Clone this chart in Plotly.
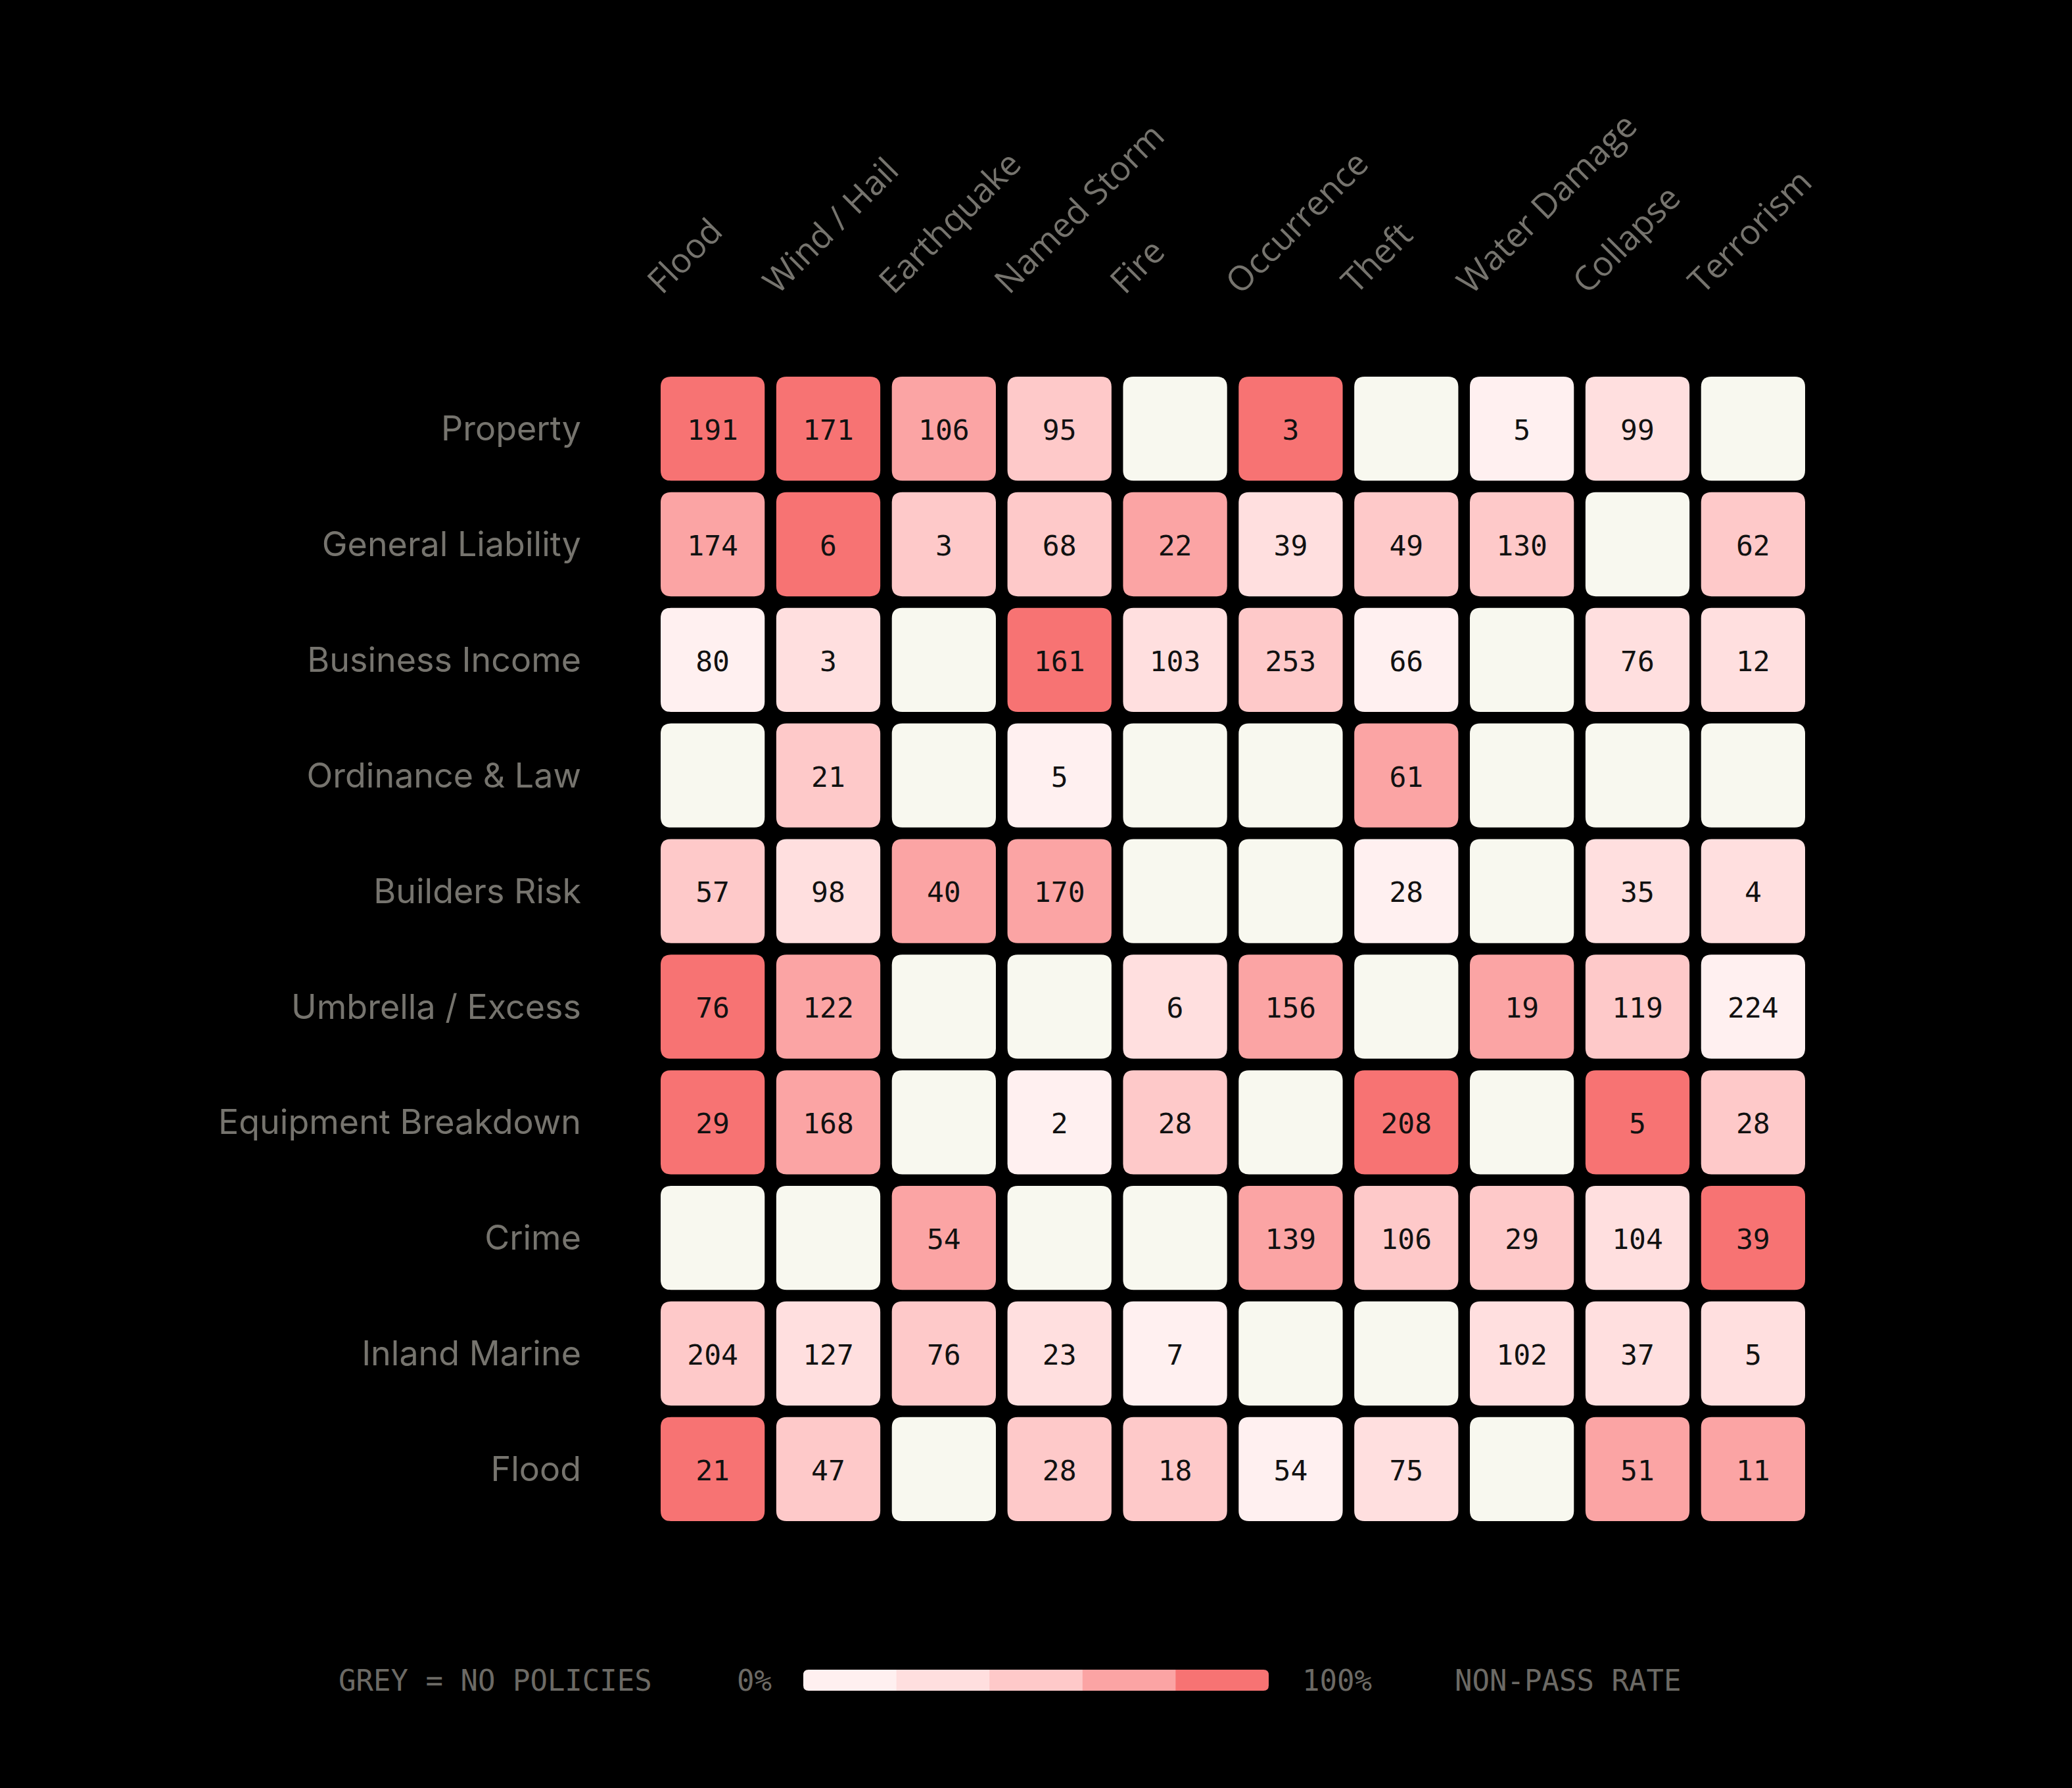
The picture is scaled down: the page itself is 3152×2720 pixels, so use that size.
import plotly.graph_objects as go

lines = ["Property", "General Liability", "Business Income", "Ordinance & Law",
         "Builders Risk", "Umbrella / Excess", "Equipment Breakdown", "Crime",
         "Inland Marine", "Flood"]
perils = ["Flood", "Wind / Hail", "Earthquake", "Named Storm", "Fire",
          "Occurrence", "Theft", "Water Damage", "Collapse", "Terrorism"]

# policies per cell, None = no policies (grey cell)
counts = [
    [191, 171, 106, 95, None, 3, None, 5, 99, None],
    [174, 6, 3, 68, 22, 39, 49, 130, None, 62],
    [80, 3, None, 161, 103, 253, 66, None, 76, 12],
    [None, 21, None, 5, None, None, 61, None, None, None],
    [57, 98, 40, 170, None, None, 28, None, 35, 4],
    [76, 122, None, None, 6, 156, None, 19, 119, 224],
    [29, 168, None, 2, 28, None, 208, None, 5, 28],
    [None, None, 54, None, None, 139, 106, 29, 104, 39],
    [204, 127, 76, 23, 7, None, None, 102, 37, 5],
    [21, 47, None, 28, 18, 54, 75, None, 51, 11],
]

# non-pass rate (%), read off the five colour bands
rates = [
    [90, 90, 70, 50, None, 90, None, 10, 30, None],
    [70, 90, 50, 50, 70, 30, 50, 50, None, 50],
    [10, 30, None, 90, 30, 50, 10, None, 30, 30],
    [None, 50, None, 10, None, None, 70, None, None, None],
    [50, 30, 70, 70, None, None, 10, None, 30, 30],
    [90, 70, None, None, 30, 70, None, 70, 50, 10],
    [90, 70, None, 10, 50, None, 90, None, 90, 50],
    [None, None, 70, None, None, 70, 50, 50, 30, 90],
    [50, 30, 50, 30, 10, None, None, 30, 30, 30],
    [90, 50, None, 50, 50, 10, 30, None, 70, 70],
]

band_colors = ["#fff0f0", "#ffdfdf", "#fec9c9", "#fba4a4", "#f77373"]
no_policy_color = "#f8f8ef"
label_color = "#76746e"

W, H = 3152, 2720
L, R, T, B = 1005, 406, 573, 406
PW = W - L - R
PH = H - T - B


def band_color(rate):
    if rate is None:
        return no_policy_color
    return band_colors[min(int(rate // 20), len(band_colors) - 1)]


def rounded_path(x0, y0, x1, y1, r):
    return (f"M {x0 + r},{y0} L {x1 - r},{y0} Q {x1},{y0} {x1},{y0 + r} "
            f"L {x1},{y1 - r} Q {x1},{y1} {x1 - r},{y1} "
            f"L {x0 + r},{y1} Q {x0},{y1} {x0},{y1 - r} "
            f"L {x0},{y0 + r} Q {x0},{y0} {x0 + r},{y0} Z")


def px_x(p):
    return (p - L) / PW


def px_y(p):
    return (H - B - p) / PH


half = 0.45
radius = 0.09
text_drop = 0.035  # nudges the numbers to the optical centre of the cell

fig = go.Figure()

shapes = []
for i, row in enumerate(rates):
    for j, rate in enumerate(row):
        shapes.append(dict(
            type="path", xref="x", yref="y", layer="below",
            path=rounded_path(j - half, i - half, j + half, i + half, radius),
            fillcolor=band_color(rate), line=dict(width=0),
        ))

xs, ys, texts = [], [], []
for i, row in enumerate(counts):
    for j, c in enumerate(row):
        if c is not None:
            xs.append(j)
            ys.append(i + text_drop)
            texts.append(str(c))

fig.add_trace(go.Scatter(
    x=xs, y=ys, text=texts, mode="text",
    textfont=dict(family="DejaVu Sans Mono", size=43, color="#111111"),
    hoverinfo="skip", showlegend=False,
))

annotations = []
for j, name in enumerate(perils):
    annotations.append(dict(
        x=j - half, y=1, xref="x", yref="paper",
        text=name, showarrow=False, textangle=-45,
        xanchor="left", yanchor="bottom", xshift=-40, yshift=110,
        font=dict(family="Open Sans", size=52, color=label_color),
    ))

# legend row
legend_font = dict(family="DejaVu Sans Mono", size=44, color="#6c6a65")
ly = px_y(2556)
annotations.append(dict(x=px_x(513), y=ly, xref="paper", yref="paper", text="GREY = NO POLICIES",
                        showarrow=False, xanchor="left", yanchor="middle", font=legend_font))
annotations.append(dict(x=px_x(1176), y=ly, xref="paper", yref="paper", text="0%",
                        showarrow=False, xanchor="right", yanchor="middle", font=legend_font))
annotations.append(dict(x=px_x(1979), y=ly, xref="paper", yref="paper", text="100%",
                        showarrow=False, xanchor="left", yanchor="middle", font=legend_font))
annotations.append(dict(x=px_x(2211), y=ly, xref="paper", yref="paper", text="NON-PASS RATE",
                        showarrow=False, xanchor="left", yanchor="middle", font=legend_font))

bar_x0, bar_x1 = 1222, 1930
bar_top, bar_bot = 2540, 2572
seg = (bar_x1 - bar_x0) / len(band_colors)
rr = 8
for k, col in enumerate(band_colors):
    sx0 = bar_x0 + k * seg
    sx1 = sx0 + seg + (1 if k < len(band_colors) - 1 else 0)
    x0, x1 = px_x(sx0), px_x(sx1)
    y0, y1 = px_y(bar_top), px_y(bar_bot)
    r = rr / PW
    if k == 0:
        path = (f"M {x0 + r},{y0} L {x1},{y0} L {x1},{y1} L {x0 + r},{y1} "
                f"Q {x0},{y1} {x0},{y1 + r} L {x0},{y0 - r} Q {x0},{y0} {x0 + r},{y0} Z")
    elif k == len(band_colors) - 1:
        path = (f"M {x0},{y0} L {x1 - r},{y0} Q {x1},{y0} {x1},{y0 - r} "
                f"L {x1},{y1 + r} Q {x1},{y1} {x1 - r},{y1} L {x0},{y1} Z")
    else:
        path = f"M {x0},{y0} L {x1},{y0} L {x1},{y1} L {x0},{y1} Z"
    shapes.append(dict(type="path", xref="paper", yref="paper", path=path,
                       fillcolor=col, line=dict(width=0)))

fig.update_layout(
    width=W, height=H,
    margin=dict(l=L, r=R, t=T, b=B),
    paper_bgcolor="#000000", plot_bgcolor="#000000",
    shapes=shapes, annotations=annotations,
    showlegend=False,
)
fig.update_xaxes(range=[-half, len(perils) - 1 + half], showgrid=False, zeroline=False,
                 showticklabels=False, ticks="", fixedrange=True)
fig.update_yaxes(range=[len(lines) - 1 + half, -half], showgrid=False, zeroline=False,
                 tickvals=list(range(len(lines))), ticktext=lines, ticks="",
                 ticklabelstandoff=120,
                 tickfont=dict(family="Inter", size=52, color=label_color), fixedrange=True)

fig.write_html(
    "out.html",
    config={"displayModeBar": False},
    post_script="document.body.style.margin='0';document.body.style.background='#000';",
)
